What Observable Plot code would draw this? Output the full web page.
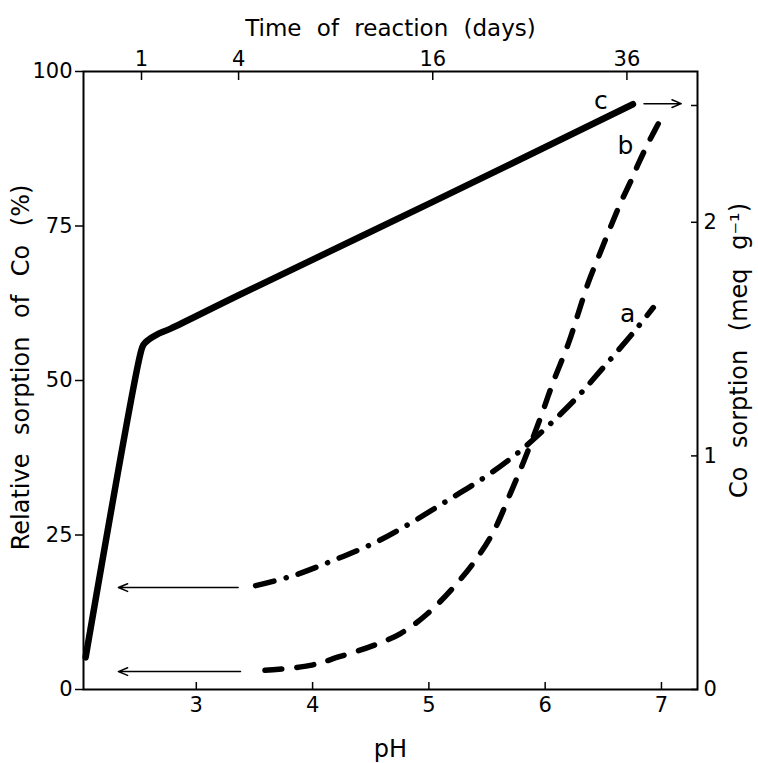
<!DOCTYPE html>
<html><head><meta charset="utf-8">
<script src="https://cdn.jsdelivr.net/npm/d3@7"></script>
<script src="https://cdn.jsdelivr.net/npm/@observablehq/plot@0.6"></script>
<style>body{margin:0;background:#fff}</style>
</head><body><div id="chart"></div>
<script>
// axis ticks
const pHTicks = [3, 4, 5, 6, 7];
const pctTicks = [0, 25, 50, 75, 100];
const dayTicks = [1, 4, 16, 36];
const meqTicks = [0, 1, 2];
const meqExtraTicks = [2.5];
const pctPerMeq = 37.8;

// curve a (dash-dot): pH vs relative sorption (%)
const aPH  = [3.51, 3.83, 4.18, 4.54, 4.84, 5.17, 5.50, 5.81, 6.25, 6.50, 6.76, 6.93];
const aPct = [16.8, 18.4, 20.9, 23.8, 26.9, 30.7, 34.6, 39.0, 46.8, 52.1, 57.8, 61.8];

// curve b (dashed)
const bPH  = [3.59, 3.98, 4.23, 4.52, 4.76, 4.99, 5.21, 5.40, 5.56, 5.70, 5.82, 5.96, 6.07, 6.20, 6.28, 6.37, 6.48, 6.57, 6.65, 6.74, 6.80, 6.88, 7.02];
const bPct = [3.1, 3.9, 5.3, 7.1, 9.1, 12.3, 16.5, 20.9, 25.7, 31.7, 37.1, 44.0, 49.8, 56.0, 60.6, 65.8, 71.0, 75.2, 78.8, 82.4, 85.0, 88.2, 93.2];

// curve c (solid): time of reaction (days) vs Co sorption
const cDays = [0.18, 0.98, 1.04, 1.15, 1.33, 1.69, 4, 16, 36.75];
const cPct  = [5.2, 54.4, 55.8, 56.6, 57.4, 58.4, 63.8, 78.9, 94.7];

// arrows (pH / %)
const arrowFrom = [3.36, 3.38, 6.85];
const arrowTo   = [2.33, 2.33, 7.17];
const arrowPct  = [16.5, 2.9, 94.8];

// curve labels
const labelText = ["a", "b", "c"];
const labelPH   = [6.71, 6.69, 6.48];
const labelPct  = [60.8, 87.9, 95.3];

// top axis (days) is a square-root scale laid over the pH axis
const dayToPH = d3.scaleSqrt().domain([0, 36]).range([1.694, 6.703]);

const aData = aPH.map((x, i) => ({x, y: aPct[i]}));
const bData = bPH.map((x, i) => ({x, y: bPct[i]}));
const cData = cDays.map((t, i) => ({t, y: cPct[i]}));
const arrows = arrowFrom.map((x1, i) => ({x1, x2: arrowTo[i], y: arrowPct[i]}));
const labels = labelText.map((text, i) => ({text, x: labelPH[i], y: labelPct[i]}));

const dayTickPos = dayTicks.map(d => dayToPH(d));
const meqTickPos = meqTicks.map(m => m * pctPerMeq);
const meqAllPos = meqTicks.concat(meqExtraTicks).map(m => m * pctPerMeq);
const empty = () => "";

const plot = Plot.plot({
  width: 758, height: 763,
  marginLeft: 83, marginRight: 61, marginTop: 71, marginBottom: 74,
  x: {domain: [2.03, 7.31]},
  y: {domain: [0, 100]},
  style: {fontFamily: "DejaVu Sans", fontSize: "21px", color: "black", background: "white"},
  marks: [
    Plot.frame({stroke: "black", strokeWidth: 2}),
    // bottom pH axis
    Plot.axisX({anchor: "bottom", ticks: pHTicks, tickSize: -7, tickFormat: empty, label: null, strokeWidth: 1.5}),
    Plot.axisX({anchor: "bottom", ticks: pHTicks, tickSize: 0, tickPadding: 8, fontSize: 21, label: null, tickFormat: "d"}),
    // top days axis
    Plot.axisX({anchor: "top", ticks: dayTickPos, tickSize: -8, tickFormat: empty, label: null, strokeWidth: 1.5}),
    Plot.axisX({anchor: "top", ticks: dayTickPos, tickSize: 0, tickPadding: 6, fontSize: 21, label: null,
      tickFormat: v => String(dayTicks[dayTickPos.indexOf(v)])}),
    // left % axis
    Plot.axisY({anchor: "left", ticks: pctTicks, tickSize: 8, tickPadding: 3, fontSize: 21, label: null, strokeWidth: 1.5}),
    // right meq axis
    Plot.axisY({anchor: "right", ticks: meqAllPos, tickSize: -7, tickFormat: empty, label: null, strokeWidth: 1.5}),
    Plot.axisY({anchor: "right", ticks: meqTickPos, tickSize: 0, tickPadding: 6, fontSize: 21, label: null,
      tickFormat: v => String(meqTicks[meqTickPos.indexOf(v)])}),
    // curves
    Plot.line(cData, {x: d => dayToPH(d.t), y: "y", stroke: "black", strokeWidth: 6.5, curve: "catmull-rom", strokeLinecap: "round"}),
    Plot.line(aData, {x: "x", y: "y", stroke: "black", strokeWidth: 5.5, curve: "catmull-rom", strokeLinecap: "round", strokeDasharray: "19,12.5,0.1,12.5"}),
    Plot.line(bData, {x: "x", y: "y", stroke: "black", strokeWidth: 5.5, curve: "catmull-rom", strokeLinecap: "round", strokeDasharray: "17,15"}),
    // arrows
    Plot.arrow(arrows, {x1: "x1", x2: "x2", y1: "y", y2: "y", stroke: "black", strokeWidth: 1.5, headLength: 10, headAngle: 45}),
    // curve labels
    Plot.text(labels, {x: "x", y: "y", text: "text", fontSize: 25}),
    // axis titles
    Plot.text(["Time of reaction (days)"], {frameAnchor: "top", dy: -36, lineAnchor: "bottom", fontSize: 23}),
    Plot.text(["pH"], {frameAnchor: "bottom", dy: 67, lineAnchor: "bottom", fontSize: 24}),
    Plot.text(["Relative sorption of Co (%)"], {frameAnchor: "left", textAnchor: "middle", rotate: -90, dx: -62, dy: -13, fontSize: 24}),
    Plot.text(["Co sorption (meq g⁻¹)"], {frameAnchor: "right", textAnchor: "middle", rotate: -90, dx: 42, dy: -30, fontSize: 24})
  ]
});
d3.select(plot).selectAll("text").filter(function() {
  const t = this.textContent;
  return t.startsWith("Time");
}).style("word-spacing", "8px");
d3.select(plot).selectAll("text").filter(function() {
  const t = this.textContent;
  return t.startsWith("Relative") || t.startsWith("Co sorption");
}).style("word-spacing", "11px");
document.getElementById("chart").appendChild(plot);
</script>
</body></html>
